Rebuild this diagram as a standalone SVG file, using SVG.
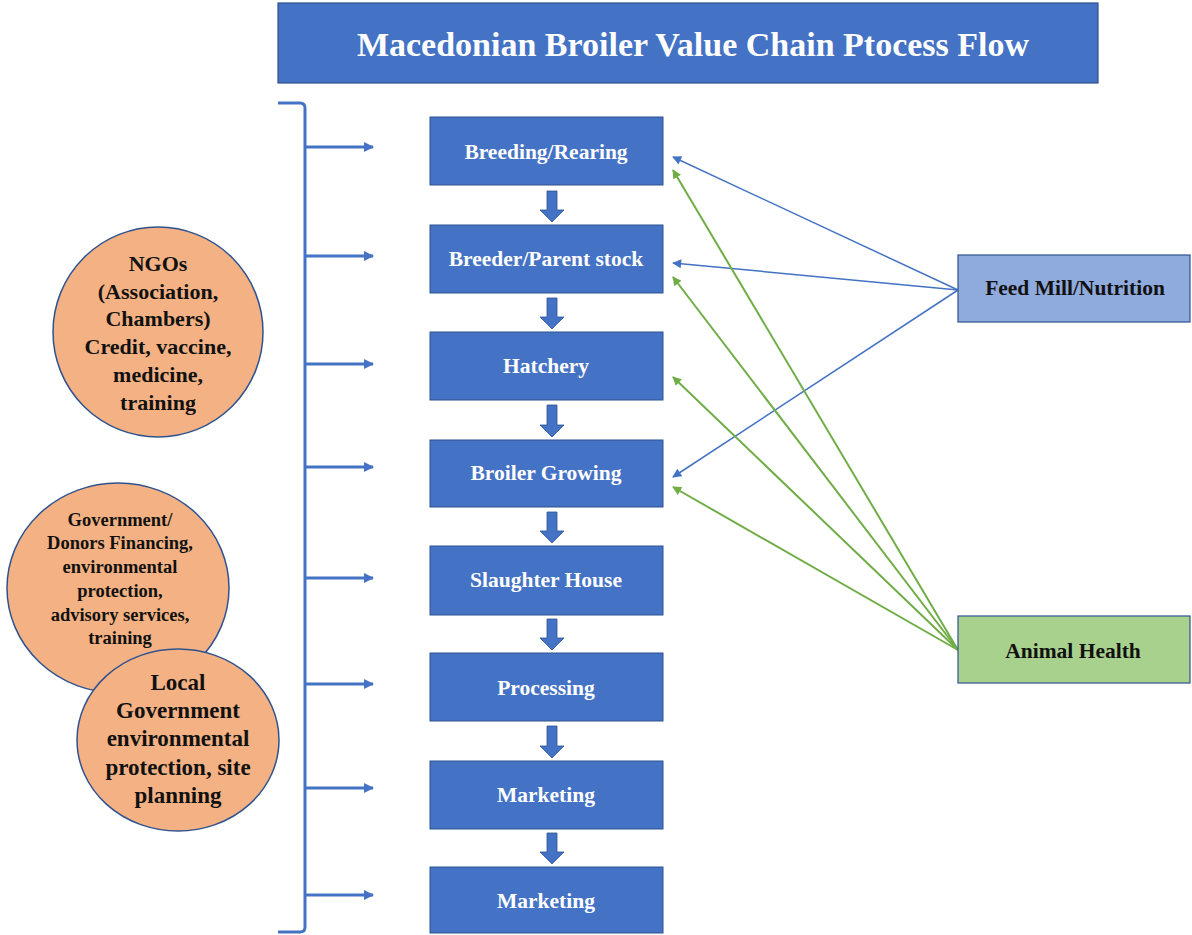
<svg xmlns="http://www.w3.org/2000/svg" width="1192" height="935" viewBox="0 0 1192 935">
<defs>
<style>
.step{fill:#4472c4;stroke:#2f528f;stroke-width:1}
.st{font-family:"Liberation Serif",serif;font-weight:bold;font-size:21.5px;fill:#fff;text-anchor:middle;dominant-baseline:central}
.ct{font-family:"Liberation Serif",serif;font-weight:bold;fill:#111;text-anchor:middle;dominant-baseline:central}
.circ{fill:#f4b183;stroke:#2f528f;stroke-width:1.5}
.br{fill:none;stroke:#4472c4;stroke-width:3}
.ha{stroke:#4472c4;stroke-width:3;marker-end:url(#mh)}
.fb{stroke:#4472c4;stroke-width:1.5;marker-end:url(#mb)}
.fg{stroke:#70ad47;stroke-width:2;marker-end:url(#mg)}
.da{fill:#4472c4;stroke:#2f528f;stroke-width:0.8}
</style>
<marker id="mh" viewBox="0 0 10 10" refX="9" refY="5" markerWidth="3.4" markerHeight="3.4" orient="auto" markerUnits="strokeWidth"><path d="M0,0 L10,5 L0,10 z" fill="#4472c4"/></marker>
<marker id="mb" viewBox="0 0 10 10" refX="9" refY="5" markerWidth="8" markerHeight="6" orient="auto" markerUnits="strokeWidth"><path d="M0,0 L10,5 L0,10 z" fill="#4472c4"/></marker>
<marker id="mg" viewBox="0 0 10 10" refX="9" refY="5" markerWidth="6" markerHeight="4.5" orient="auto" markerUnits="strokeWidth"><path d="M0,0 L10,5 L0,10 z" fill="#70ad47"/></marker>
</defs>
<rect width="1192" height="935" fill="#fff"/>
<g id="title">
<rect x="278" y="3" width="820" height="80" fill="#4472c4" stroke="#2f528f" stroke-width="1.2"/>
<text x="693" y="44" font-family="Liberation Serif,serif" font-weight="bold" font-size="34" fill="#fff" text-anchor="middle" dominant-baseline="central">Macedonian Broiler Value Chain Ptocess Flow</text>
</g>
<g id="connectors">
<path class="br" d="M278,103 L300,103 Q305,103 305,108 L305,927 Q305,932 300,932 L278,932"/>
<line class="ha" x1="305" y1="147" x2="373" y2="147"/>
<line class="ha" x1="305" y1="256" x2="373" y2="256"/>
<line class="ha" x1="305" y1="364" x2="373" y2="364"/>
<line class="ha" x1="305" y1="467" x2="373" y2="467"/>
<line class="ha" x1="305" y1="578" x2="373" y2="578"/>
<line class="ha" x1="305" y1="684" x2="373" y2="684"/>
<line class="ha" x1="305" y1="788" x2="373" y2="788"/>
<line class="ha" x1="305" y1="895" x2="373" y2="895"/>
<polygon class="da" points="547,191 557,191 557,210 564,210 552,222 540,210 547,210"/>
<polygon class="da" points="547,298 557,298 557,317 564,317 552,329 540,317 547,317"/>
<polygon class="da" points="547,405 557,405 557,425 564,425 552,437 540,425 547,425"/>
<polygon class="da" points="547,512 557,512 557,531 564,531 552,543 540,531 547,531"/>
<polygon class="da" points="547,619 557,619 557,638 564,638 552,650 540,638 547,638"/>
<polygon class="da" points="547,726 557,726 557,746 564,746 552,758 540,746 547,746"/>
<polygon class="da" points="547,833 557,833 557,852 564,852 552,864 540,852 547,852"/>
<line class="fb" x1="958" y1="290" x2="673" y2="157"/>
<line class="fb" x1="958" y1="290" x2="673" y2="263"/>
<line class="fb" x1="958" y1="290" x2="673" y2="477"/>
<line class="fg" x1="958" y1="650" x2="673" y2="170"/>
<line class="fg" x1="958" y1="650" x2="673" y2="277"/>
<line class="fg" x1="958" y1="650" x2="673" y2="377"/>
<line class="fg" x1="958" y1="650" x2="673" y2="487"/>
</g>
<g id="breeding"><rect class="step" x="430" y="117" width="233" height="68"/><text class="st" x="546" y="152">Breeding/Rearing</text></g>
<g id="breeder"><rect class="step" x="430" y="225" width="233" height="68"/><text class="st" x="546" y="259">Breeder/Parent stock</text></g>
<g id="hatchery"><rect class="step" x="430" y="332" width="233" height="68"/><text class="st" x="546" y="366">Hatchery</text></g>
<g id="broiler"><rect class="step" x="430" y="440" width="233" height="67"/><text class="st" x="546" y="473">Broiler Growing</text></g>
<g id="slaughter"><rect class="step" x="430" y="546" width="233" height="69"/><text class="st" x="546" y="580">Slaughter House</text></g>
<g id="processing"><rect class="step" x="430" y="653" width="233" height="68"/><text class="st" x="546" y="688">Processing</text></g>
<g id="marketing1"><rect class="step" x="430" y="761" width="233" height="68"/><text class="st" x="546" y="795">Marketing</text></g>
<g id="marketing2"><rect class="step" x="430" y="867" width="233" height="66"/><text class="st" x="546" y="901">Marketing</text></g>
<g id="feedmill"><rect x="958" y="255" width="232" height="67" fill="#8faadc" stroke="#2f528f" stroke-width="1.2"/><text class="ct" x="1075" y="288" font-size="21.5">Feed Mill/Nutrition</text></g>
<g id="animalhealth"><rect x="958" y="616" width="232" height="67" fill="#a9d18e" stroke="#2f528f" stroke-width="1.2"/><text class="ct" x="1073" y="651" font-size="21.5">Animal Health</text></g>
<g id="ngos"><ellipse class="circ" cx="158" cy="332" rx="105" ry="105"/>
<text class="ct" font-size="22" x="158"><tspan x="158" y="263">NGOs</tspan><tspan x="158" y="291">(Association,</tspan><tspan x="158" y="318">Chambers)</tspan><tspan x="158" y="346">Credit, vaccine,</tspan><tspan x="158" y="374">medicine,</tspan><tspan x="158" y="402">training</tspan></text></g>
<g id="government"><ellipse class="circ" cx="118" cy="588" rx="111" ry="105"/>
<text class="ct" font-size="18.5" x="120"><tspan x="120" y="520">Government/</tspan><tspan x="120" y="543">Donors Financing,</tspan><tspan x="120" y="567">environmental</tspan><tspan x="120" y="591">protection,</tspan><tspan x="120" y="615">advisory services,</tspan><tspan x="120" y="638">training</tspan></text></g>
<g id="localgov"><ellipse class="circ" cx="178" cy="740" rx="101" ry="91"/>
<text class="ct" font-size="23" x="178"><tspan x="178" y="682">Local</tspan><tspan x="178" y="710">Government</tspan><tspan x="178" y="738">environmental</tspan><tspan x="178" y="767">protection, site</tspan><tspan x="178" y="795">planning</tspan></text></g>
</svg>
